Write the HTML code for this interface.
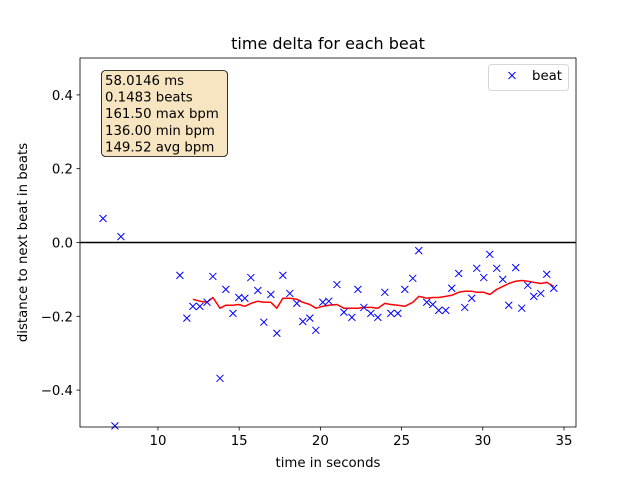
<!DOCTYPE html>
<html><head><meta charset="utf-8"><style>body{margin:0;background:#fff}svg{display:block;font-family:"DejaVu Sans","Liberation Sans",sans-serif}</style></head>
<body>
<svg id="chart" width="640" height="480">
<rect width="640" height="480" fill="#fff"/>
<g id="plot"></g>
</svg>
<script>
const beatX=[6.62,7.72,7.35,11.35,11.78,12.15,12.58,13.02,13.38,13.82,14.18,14.62,14.98,15.35,15.72,16.15,16.52,16.95,17.32,17.69,18.12,18.55,18.92,19.35,19.72,20.15,20.52,21.02,21.45,21.94,22.31,22.68,23.11,23.54,23.97,24.34,24.77,25.2,25.69,26.06,26.55,26.92,27.29,27.72,28.09,28.52,28.89,29.32,29.63,30.06,30.43,30.86,31.23,31.6,32.03,32.4,32.77,33.14,33.57,33.94,34.37];
const beatY=[0.065,0.016,-0.497,-0.089,-0.205,-0.173,-0.173,-0.162,-0.092,-0.368,-0.127,-0.192,-0.149,-0.151,-0.095,-0.13,-0.216,-0.141,-0.246,-0.089,-0.138,-0.165,-0.214,-0.205,-0.238,-0.162,-0.159,-0.114,-0.189,-0.203,-0.127,-0.176,-0.192,-0.203,-0.135,-0.192,-0.192,-0.127,-0.097,-0.022,-0.162,-0.168,-0.184,-0.184,-0.124,-0.084,-0.176,-0.151,-0.07,-0.095,-0.032,-0.07,-0.1,-0.17,-0.068,-0.178,-0.116,-0.146,-0.138,-0.086,-0.124];
const avgX=[12.15,12.58,13.02,13.38,13.82,14.18,14.62,14.98,15.35,15.72,16.15,16.52,16.95,17.32,17.69,18.12,18.55,18.92,19.35,19.72,20.15,20.52,21.02,21.45,21.94,22.31,22.68,23.11,23.54,23.97,24.34,24.77,25.2,25.69,26.06,26.55,26.92,27.29,27.72,28.09,28.52,28.89,29.32,29.63,30.06,30.43,30.86,31.23,31.6,32.03,32.4,32.77,33.14,33.57,33.94,34.37];
const avgY=[-0.154,-0.159,-0.162,-0.149,-0.178,-0.17,-0.17,-0.168,-0.173,-0.165,-0.159,-0.162,-0.162,-0.178,-0.151,-0.151,-0.154,-0.162,-0.168,-0.178,-0.173,-0.17,-0.168,-0.178,-0.178,-0.178,-0.176,-0.176,-0.178,-0.165,-0.168,-0.17,-0.173,-0.162,-0.146,-0.151,-0.149,-0.149,-0.146,-0.143,-0.135,-0.132,-0.132,-0.135,-0.135,-0.141,-0.127,-0.119,-0.111,-0.105,-0.103,-0.105,-0.108,-0.111,-0.108,-0.119];
const xTicks=[10,15,20,25,30,35];
const yTicks=[-0.4,-0.2,0.0,0.2,0.4];
const yTickLabels=["\u22120.4","\u22120.2","0.0","0.2","0.4"];
const infoLines=["58.0146 ms","0.1483 beats","161.50 max bpm","136.00 min bpm","149.52 avg bpm"];

const L=80,R=576,T=58,B=427,X0=5.2,X1=35.74,Y0=-0.5,Y1=0.5;
const sx=v=>L+(v-X0)/(X1-X0)*(R-L);
const sy=v=>B-(v-Y0)/(Y1-Y0)*(B-T);
const NS="http://www.w3.org/2000/svg";
const g=document.getElementById('plot');
function mk(t,a,p){const e=document.createElementNS(NS,t);for(const k in a)e.setAttribute(k,a[k]);(p||g).appendChild(e);return e;}

let z=mk('line',{x1:L,x2:R,y1:sy(0),y2:sy(0),stroke:'#000','stroke-width':1.5});



let pts=avgX.map((x,i)=>sx(x).toFixed(1)+','+sy(avgY[i]).toFixed(1)).join(' ');
let av=mk('polyline',{points:pts,fill:'none',stroke:'#ff0000','stroke-width':1.5,'stroke-linejoin':'round'});



beatX.forEach((x,i)=>{
  const cx=sx(x),cy=sy(beatY[i]),s=3.5;
  const m=mk('path',{d:`M${cx-s},${cy-s}L${cx+s},${cy+s}M${cx-s},${cy+s}L${cx+s},${cy-s}`,stroke:'#0000ff','stroke-width':1});
  
  
});

let fr=mk('rect',{x:L,y:T,width:R-L,height:B-T,fill:'none',stroke:'#000','stroke-width':0.8});



xTicks.forEach(v=>{
  const x=sx(v);
  const tk=mk('line',{x1:x,x2:x,y1:B,y2:B+3.5,stroke:'#000','stroke-width':0.8});
  
  
  const t=mk('text',{x:x,y:B+18,'font-size':13.3,'text-anchor':'middle'});t.textContent=v;
  
  
});
yTicks.forEach((v,i)=>{
  const y=sy(v);
  const tk=mk('line',{x1:L-3.5,x2:L,y1:y,y2:y,stroke:'#000','stroke-width':0.8});
  
  
  const t=mk('text',{x:L-7,y:y+5,'font-size':13.3,'text-anchor':'end'});t.textContent=yTickLabels[i];
  
  
});

let tt=mk('text',{x:(L+R)/2,y:49,'font-size':16,'text-anchor':'middle'});tt.textContent='time delta for each beat';


let xl=mk('text',{x:(L+R)/2,y:467,'font-size':13.3,'text-anchor':'middle'});xl.textContent='time in seconds';


let yl=mk('text',{x:0,y:0,'font-size':13.3,'text-anchor':'middle',transform:`translate(27,${(T+B)/2}) rotate(-90)`});yl.textContent='distance to next beat in beats';



let ib=mk('rect',{x:101.5,y:70.5,width:126,height:86,rx:4,fill:'#f5deb3','fill-opacity':0.8,stroke:'#000','stroke-width':0.8});


infoLines.forEach((s,i)=>{
  const t=mk('text',{x:105,y:85+i*16.6,'font-size':13.3});t.textContent=s;
  
  
});

let lg=mk('rect',{x:488.5,y:64.5,width:80,height:26,rx:3,fill:'#fff','fill-opacity':0.8,stroke:'#ccc','stroke-width':0.8});


let lm=mk('path',{d:'M508.5,72L515.5,79M508.5,79L515.5,72',stroke:'#0000ff','stroke-width':1});


let lt=mk('text',{x:532,y:80,'font-size':13.3});lt.textContent='beat';


</script>
</body></html>
